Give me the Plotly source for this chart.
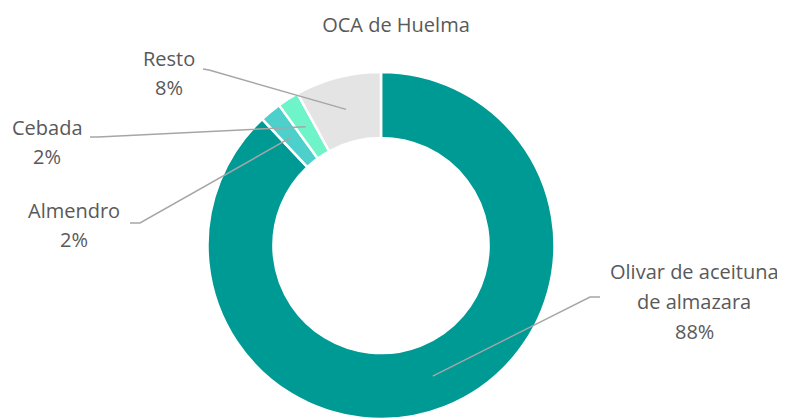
import math
import plotly.graph_objects as go

CULTIVOS = ["Olivar de aceituna de almazara", "Almendro", "Cebada", "Resto"]
ETIQUETAS = [["Olivar de aceituna", "de almazara"], ["Almendro"], ["Cebada"], ["Resto"]]
SUPERFICIE = [88, 2, 2, 8]

COLORES = ["#009a95", "#4dcfcb", "#6ff3c8", "#e4e4e4"]
_TEXT = "#595959"
_LINEA = "#a6a6a6"
_FONT = "'Open Sans', sans-serif"
_SIZE = 20

W, H = 785, 419
OFF = 8  # margen del <body> de la página
CX, CY, R, HOLE = 381, 245.5, 173.5, 0.62

# posiciones de las etiquetas (px de pantalla): centro x, y de la primera línea, codo de la guía
POS = {
    "Olivar de aceituna de almazara": dict(x=694, y=271, codo=[(590, 297), (600, 297)]),
    "Almendro": dict(x=74, y=210, codo=[(140, 223), (130, 223)]),
    "Cebada": dict(x=47, y=127, codo=[(98, 137), (90, 137)]),
    "Resto": dict(x=169, y=58, codo=[(209, 70), (203, 69)]),
}
SALTO = 30


def px(x, y):
    return (x - OFF) / W, 1 - (y - OFF) / H


fig = go.Figure(
    go.Pie(
        labels=CULTIVOS,
        values=SUPERFICIE,
        hole=HOLE,
        sort=False,
        direction="clockwise",
        rotation=0,
        marker=dict(colors=COLORES, line=dict(color="white", width=2.5)),
        textinfo="none",
        hoverinfo="label+percent",
        domain=dict(x=[(CX - R - OFF) / W, (CX + R - OFF) / W],
                    y=[1 - (CY + R - OFF) / H, 1 - (CY - R - OFF) / H]),
        showlegend=False,
    )
)

total = sum(SUPERFICIE)
acum = 0
shapes, annotations = [], []
for nombre, lineas, v in zip(CULTIVOS, ETIQUETAS, SUPERFICIE):
    medio = (acum + v / 2) / total * 2 * math.pi
    acum += v
    rr = R * (1 + HOLE) / 2
    ax, ay = CX + rr * math.sin(medio), CY - rr * math.cos(medio)
    p = POS[nombre]
    pts = [(ax, ay)] + p["codo"]
    path = "M " + " L ".join("%.5f,%.5f" % px(a, b) for a, b in pts)
    shapes.append(dict(type="path", xref="paper", yref="paper", path=path,
                       line=dict(color=_LINEA, width=1.5)))
    textos = lineas + [f"{round(v / total * 100)}%"]
    for i, t in enumerate(textos):
        x, y = px(p["x"], p["y"] + i * SALTO)
        annotations.append(dict(text=t, x=x, y=y, xref="paper", yref="paper",
                                xanchor="center", yanchor="middle", showarrow=False,
                                font=dict(size=_SIZE, color=_TEXT, family=_FONT)))

tx, ty = px(396, 25)
fig.update_layout(
    width=W,
    height=H,
    paper_bgcolor="white",
    plot_bgcolor="white",
    margin=dict(l=0, r=0, t=0, b=0),
    font=dict(family=_FONT, size=_SIZE, color=_TEXT),
    title=dict(text="OCA de Huelma", x=tx, xanchor="center", y=ty,
               yanchor="middle", font=dict(size=_SIZE, color=_TEXT, family=_FONT)),
    shapes=shapes,
    annotations=annotations,
)

fig.write_html("out.html")
